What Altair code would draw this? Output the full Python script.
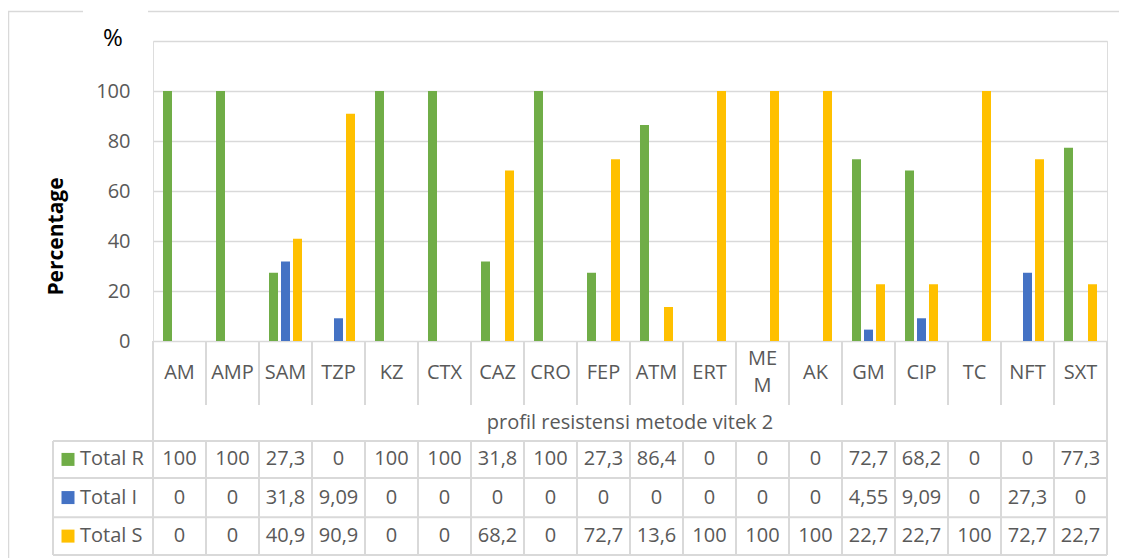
import altair as alt
import pandas as pd

# ---------------- data ----------------
categories = ["AM", "AMP", "SAM", "TZP", "KZ", "CTX", "CAZ", "CRO", "FEP",
              "ATM", "ERT", "MEM", "AK", "GM", "CIP", "TC", "NFT", "SXT"]
category_labels = ["AM", "AMP", "SAM", "TZP", "KZ", "CTX", "CAZ", "CRO", "FEP",
                   "ATM", "ERT", "ME\nM", "AK", "GM", "CIP", "TC", "NFT", "SXT"]
series = ["Total R", "Total I", "Total S"]
total_r = [100, 100, 27.3, 0, 100, 100, 31.8, 100, 27.3, 86.4, 0, 0, 0, 72.7, 68.2, 0, 0, 77.3]
total_i = [0, 0, 31.8, 9.09, 0, 0, 0, 0, 0, 0, 0, 0, 0, 4.55, 9.09, 0, 27.3, 0]
total_s = [0, 0, 40.9, 90.9, 0, 0, 68.2, 0, 72.7, 13.6, 100, 100, 100, 22.7, 22.7, 100, 72.7, 22.7]
y_ticks = [0, 20, 40, 60, 80, 100, 120]
x_title = "profil resistensi metode vitek 2"
y_title = "Percentage"
unit_label = "%"

colors = ["#70AD47", "#4472C4", "#FFC000"]
grey_text = "#595959"
line_col = "#D9D9D9"
FONT = "Open Sans"
W, H = 954, 300
LINE_H = 27

# table layout (row units)
row_bounds = [0, 1.71, 2.67, 3.66, 4.71, 5.72]
row_centers = [(row_bounds[i] + row_bounds[i + 1]) / 2 for i in range(5)]

def fmt(v):
    return f"{v:g}".replace(".", ",")

records = []
for si, (s, vals) in enumerate(zip(series, [total_r, total_i, total_s])):
    for c, v in zip(categories, vals):
        records.append({"cat": c, "series": s, "value": v, "label": fmt(v),
                        "row": row_centers[2 + si]})
df_long = pd.DataFrame(records)
df_cat = pd.DataFrame({"cat": categories, "label": category_labels})
df_cat_single = df_cat[~df_cat["label"].str.contains("\n")]
df_cat_multi = df_cat[df_cat["label"].str.contains("\n")]
df_series = pd.DataFrame({"series": series, "row": row_centers[2:]})
df_h = pd.DataFrame({"yb": row_bounds[2:]})
df_one = pd.DataFrame({"t": [x_title], "u": [unit_label]})

xscale = alt.Scale(domain=categories, paddingInner=0, paddingOuter=0)
tscale = alt.Scale(domain=[0, row_bounds[-1]], range=[H, H + 214], nice=False, zero=False)
color_enc = alt.Color("series:N", sort=series,
                      scale=alt.Scale(domain=series, range=colors), legend=None)

def X(**kw):
    return alt.X("cat:N", sort=categories, scale=xscale, axis=None, **kw)

def TY(v):
    return alt.YDatum(v, type="quantitative", scale=tscale, axis=None)

# ---------------- bars ----------------
bars = alt.Chart(df_long).mark_bar().encode(
    x=X(),
    xOffset=alt.XOffset("series:N", sort=series,
                        scale=alt.Scale(domain=series, paddingInner=0.25, paddingOuter=0.833)),
    y=alt.Y("value:Q",
            scale=alt.Scale(domain=[0, 120], nice=False),
            axis=alt.Axis(values=y_ticks,
                          labelExpr="datum.value == 120 ? '' : datum.label",
                          grid=True, gridColor=line_col, gridWidth=1.5,
                          domain=False, ticks=False,
                          labelFontSize=20, labelColor=grey_text, labelPadding=23,
                          labelFont=FONT,
                          title=y_title, titleFontSize=21, titleFontWeight="bold",
                          titleColor="black", titleFont=FONT, titleAngle=270,
                          titleX=-97, titleY=195, titleAlign="center",
                          titleBaseline="middle")),
    color=color_enc,
)

# ---------------- table ----------------
txt = dict(fontSize=20, color=grey_text, font=FONT, baseline="middle")

cat_text = alt.Chart(df_cat_single).mark_text(**txt).encode(
    x=X(), y=TY(row_centers[0]), text="label:N")
cat_text_multi = alt.Chart(df_cat_multi).mark_text(
    lineBreak="\n", lineHeight=LINE_H, dy=-LINE_H / 2, **txt).encode(
    x=X(), y=TY(row_centers[0]), text="label:N")

val_text = alt.Chart(df_long).mark_text(**txt).encode(
    x=X(), y=alt.Y("row:Q", scale=tscale, axis=None), text="label:N")

title_text = alt.Chart(df_one).mark_text(**txt).encode(
    x=alt.value(W / 2), y=TY(row_centers[1]), text="t:N")

leg_sq = alt.Chart(df_series).mark_point(shape="square", filled=True, size=169, opacity=1).encode(
    x=alt.value(-85), y=alt.Y("row:Q", scale=tscale, axis=None), color=color_enc)

leg_txt = alt.Chart(df_series).mark_text(align="left", **txt).encode(
    x=alt.value(-73), y=alt.Y("row:Q", scale=tscale, axis=None), text="series:N")

rule = dict(color=line_col, strokeWidth=2)
v_head = alt.Chart(df_cat).mark_rule(**rule).encode(
    x=X(bandPosition=0), y=TY(row_bounds[0]), y2=alt.Y2Datum(row_bounds[1]))
v_body = alt.Chart(df_cat).mark_rule(**rule).encode(
    x=X(bandPosition=0), y=TY(row_bounds[2]), y2=alt.Y2Datum(row_bounds[-1]))
v_first = alt.Chart(df_cat.iloc[[0]]).mark_rule(**rule).encode(
    x=X(bandPosition=0), y=TY(row_bounds[0]), y2=alt.Y2Datum(row_bounds[-1]))
v_last = alt.Chart(df_cat.iloc[[-1]]).mark_rule(**rule).encode(
    x=X(bandPosition=1), y=TY(row_bounds[0]), y2=alt.Y2Datum(row_bounds[-1]))
v_label = alt.Chart(df_one).mark_rule(**rule).encode(
    x=alt.value(-100), y=TY(row_bounds[2]), y2=alt.Y2Datum(row_bounds[-1]))
h_lines = alt.Chart(df_h).mark_rule(**rule).encode(
    x=alt.value(-100), x2=alt.value(W),
    y=alt.Y("yb:Q", scale=tscale, axis=None))

# outer chart border and "%" label
border = dict(color=line_col, strokeWidth=1.5)
b_left = alt.Chart(df_one).mark_rule(**border).encode(
    x=alt.value(-144.5), y=alt.value(-29.5), y2=alt.value(520))
b_top1 = alt.Chart(df_one).mark_rule(**border).encode(
    x=alt.value(-145), x2=alt.value(-70), y=alt.value(-29.5))
b_top2 = alt.Chart(df_one).mark_rule(**border).encode(
    x=alt.value(-5), x2=alt.value(970), y=alt.value(-29.5))
pct = alt.Chart(df_one).mark_text(fontSize=24, color="black", font=FONT, baseline="middle").encode(
    x=alt.value(-40), y=alt.value(-2), text="u:N")

table = alt.layer(v_head, v_body, v_first, v_last, v_label, h_lines,
                  cat_text, cat_text_multi, val_text, title_text, leg_sq, leg_txt,
                  b_left, b_top1, b_top2, pct)

chart = alt.layer(bars, table).resolve_scale(y="independent").properties(
    width=W, height=H,
    padding={"left": 145, "top": 33, "right": 12, "bottom": 217},
    autosize=alt.AutoSizeParams(type="none"),
).configure_view(stroke=None).configure(font=FONT, background="white")

chart.save("out.html", embed_options={"renderer": "svg", "actions": False})
